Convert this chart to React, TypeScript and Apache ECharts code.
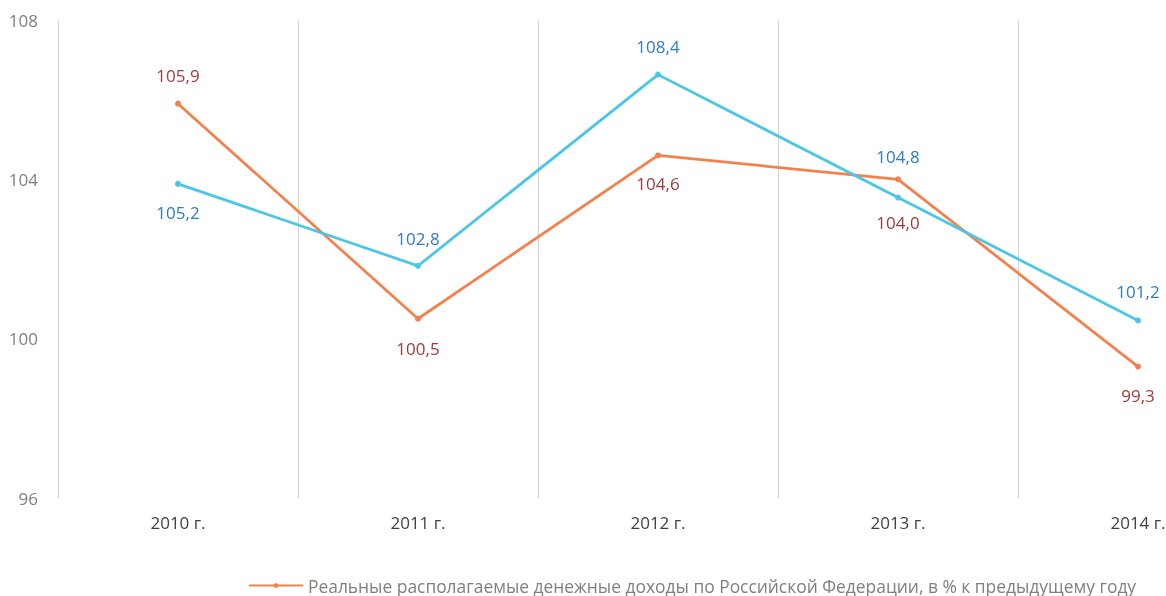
import React, { useEffect, useRef } from "react";
import * as echarts from "echarts";

const categories = ["2010 г.", "2011 г.", "2012 г.", "2013 г.", "2014 г."];
const incomeValues = [105.9, 100.5, 104.6, 104.0, 99.3];
const secondValues = [105.2, 102.8, 108.4, 104.8, 101.2];
const incomeLabelPos = ["top", "bottom", "bottom", "bottom", "bottom"];
const secondLabelPos = ["bottom", "top", "top", "top", "top"];
const incomeLabelDist = [17, 18, 17, 32, 17];
const secondLabelDist = [17, 16, 17, 30, 17];
const yTicks = [96, 100, 104, 108];
const incomeName = "Реальные располагаемые денежные доходы по Российской Федерации, в % к предыдущему году";
const secondName = "Ряд 2";

const FONT = "'Open Sans', sans-serif";
const fmt = (v: number) => v.toFixed(1).replace(".", ",");

export default function App() {
  const ref = useRef<HTMLDivElement>(null);
  useEffect(() => {
    const chart = echarts.init(ref.current!, null, { renderer: "svg" });
    chart.setOption({
      animation: false,
      textStyle: { fontFamily: FONT },
      grid: { left: 58, top: 20, width: 1200, height: 478 },
      legend: {
        data: [{ name: incomeName }],
        left: 248,
        top: 577,
        padding: 0,
        itemWidth: 54,
        itemHeight: 6,
        itemGap: 7,
        textStyle: { fontSize: 17.4, color: "#7f7f7f", fontFamily: FONT },
      },
      xAxis: {
        type: "category",
        data: categories,
        boundaryGap: true,
        axisLine: { show: false },
        axisTick: { show: false },
        splitLine: { show: true, lineStyle: { color: "#d3d3d3", width: 1 } },
        axisLabel: { color: "#404040", fontSize: 17, margin: 16, fontFamily: FONT },
      },
      yAxis: [
        {
          type: "value",
          min: 96,
          max: 108,
          interval: 4,
          axisLine: { show: false },
          axisTick: { show: false },
          splitLine: { show: false },
          axisLabel: {
            color: "#7f7f7f",
            fontSize: 17,
            margin: 20,
            fontFamily: FONT,
            formatter: (v: number) => (yTicks.includes(v) ? String(v) : ""),
          },
        },
        {
          type: "value",
          min: 96,
          max: 110,
          show: false,
        },
      ],
      series: [
        {
          name: incomeName,
          type: "line",
          yAxisIndex: 0,
          data: incomeValues.map((v, i) => ({
            value: v,
            label: { position: incomeLabelPos[i], distance: incomeLabelDist[i] },
          })),
          symbol: "circle",
          symbolSize: 6,
          lineStyle: { color: "#f5804c", width: 2.75 },
          itemStyle: { color: "#f5804c" },
          label: {
            show: true,
            color: "#a03c3c",
            fontSize: 17,
            fontFamily: FONT,
            formatter: (p: any) => fmt(p.value),
          },
        },
        {
          name: secondName,
          type: "line",
          yAxisIndex: 1,
          data: secondValues.map((v, i) => ({
            value: v,
            label: { position: secondLabelPos[i], distance: secondLabelDist[i] },
          })),
          symbol: "circle",
          symbolSize: 6,
          lineStyle: { color: "#4ac6e6", width: 2.75 },
          itemStyle: { color: "#4ac6e6" },
          label: {
            show: true,
            color: "#2e7cc0",
            fontSize: 17,
            fontFamily: FONT,
            formatter: (p: any) => fmt(p.value),
          },
        },
      ],
    });
    return () => chart.dispose();
  }, []);
  return (
    <div style={{ position: "fixed", left: 0, top: 0, width: 1166, height: 596, overflow: "hidden" }}>
      <div ref={ref} style={{ width: 1300, height: 596 }} />
    </div>
  );
}
